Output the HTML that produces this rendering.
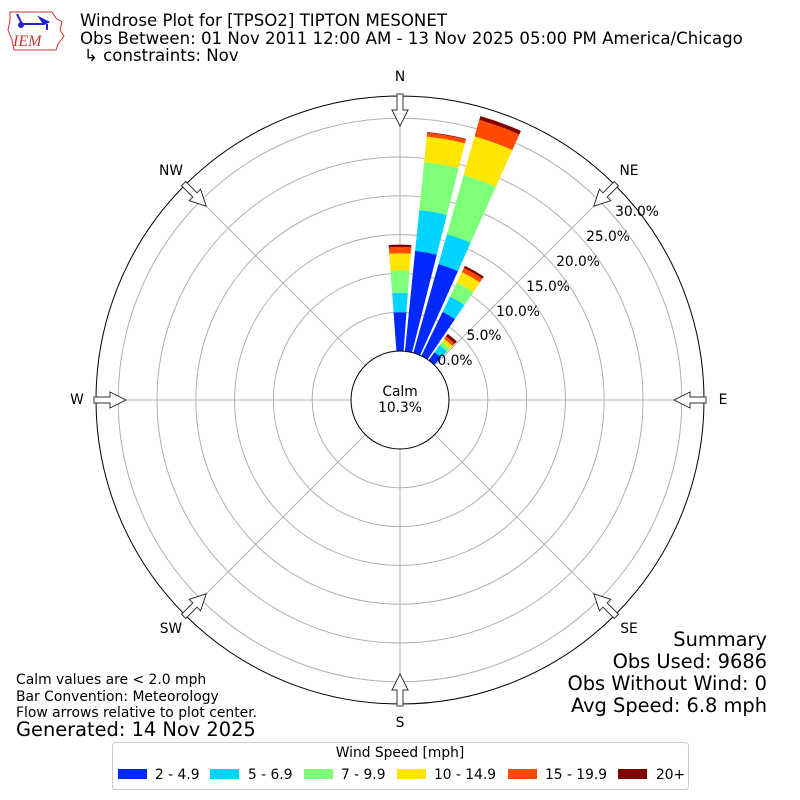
<!DOCTYPE html>
<html><head><meta charset="utf-8"><style>
body{margin:0;background:#fff}
svg{display:block;font-family:"DejaVu Sans","Liberation Sans",sans-serif}
</style></head><body>
<svg id="s" width="800" height="800" viewBox="0 0 800 800" xmlns="http://www.w3.org/2000/svg">
<rect width="800" height="800" fill="#fff"/>
<g stroke="#c33" fill="none" stroke-width="1">
<path d="M10 12 L52 12 L56 18 L62 22 L60 30 L64 36 L58 44 L56 50 L14 50 L12 40 L8 30 L10 20 Z"/>
</g>
<g stroke="#22c" stroke-width="2" fill="#22c">
<line x1="22" y1="24" x2="44" y2="24"/><line x1="17" y1="14" x2="22" y2="24"/><circle cx="21" cy="25" r="2"/><path d="M40 18 L48 22 L44 24 Z"/><line x1="47" y1="24" x2="47" y2="30"/>
</g>
<text x="13" y="46" font-family="Liberation Serif,serif" font-style="italic" font-size="16" fill="#c33">IEM</text>
<text x="80" y="26" font-size="16.6">Windrose Plot for [TPSO2] TIPTON MESONET</text>
<text x="80" y="44" font-size="16.6">Obs Between: 01 Nov 2011 12:00 AM - 13 Nov 2025 05:00 PM America/Chicago</text>
<text x="84" y="61" font-size="16.6">↳ constraints: Nov</text>
<g id="grid" fill="none" stroke="#b0b0b0" stroke-width="1"></g>
<g id="bars"></g>
<circle cx="400" cy="400" r="304" fill="none" stroke="#000" stroke-width="1"/>
<circle cx="400" cy="400" r="49" fill="#fff" stroke="#000" stroke-width="1"/>
<text x="400" y="396" font-size="13.8" text-anchor="middle">Calm</text>
<text x="400" y="412" font-size="13.8" text-anchor="middle">10.3%</text>
<g id="arrows"></g>
<g font-size="13.8" text-anchor="middle">
<text x="400" y="81">N</text><text x="629" y="175">NE</text><text x="723" y="404">E</text><text x="629" y="633">SE</text>
<text x="400" y="727">S</text><text x="171" y="633">SW</text><text x="77" y="404">W</text><text x="171" y="175">NW</text>
</g>
<g font-size="13.8" text-anchor="middle">
<text x="455" y="365">0.0%</text><text x="484" y="340">5.0%</text><text x="518" y="316">10.0%</text>
<text x="548" y="291">15.0%</text><text x="578" y="266">20.0%</text><text x="608" y="241">25.0%</text><text x="637" y="216">30.0%</text>
</g>
<g font-size="13.9">
<text x="16" y="684">Calm values are &lt; 2.0 mph</text>
<text x="16" y="701">Bar Convention: Meteorology</text>
<text x="16" y="717">Flow arrows relative to plot center.</text>
<text x="16" y="736" font-size="19.4">Generated: 14 Nov 2025</text>
</g>
<g font-size="19.4" text-anchor="end">
<text x="767" y="646">Summary</text>
<text x="767" y="668">Obs Used: 9686</text>
<text x="767" y="690">Obs Without Wind: 0</text>
<text x="767" y="712">Avg Speed: 6.8 mph</text>
</g>
<rect x="112.5" y="742.5" width="576" height="47" rx="3" fill="#fff" stroke="#ccc"/>
<text x="400" y="757" font-size="13.8" text-anchor="middle">Wind Speed [mph]</text>
<g font-size="13.8">
<rect x="118" y="769" width="29" height="10" fill="#0028ff"/><text x="155" y="779">2 - 4.9</text>
<rect x="210" y="769" width="29" height="10" fill="#00d4ff"/><text x="248" y="779">5 - 6.9</text>
<rect x="304" y="769" width="29" height="10" fill="#7dff7a"/><text x="341" y="779">7 - 9.9</text>
<rect x="397" y="769" width="29" height="10" fill="#ffe600"/><text x="434" y="779">10 - 14.9</text>
<rect x="508" y="769" width="29" height="10" fill="#ff4a00"/><text x="545" y="779">15 - 19.9</text>
<rect x="618" y="769" width="29" height="10" fill="#800000"/><text x="656" y="779">20+</text>
</g>
</svg>
<script>
var NS="http://www.w3.org/2000/svg",cx=400,cy=400;
function el(p,t,a){var e=document.createElementNS(NS,t);for(var k in a)e.setAttribute(k,a[k]);p.appendChild(e);return e;}
function pt(r,deg){var a=deg*Math.PI/180;return [cx+r*Math.sin(a),cy-r*Math.cos(a)];}
var g=document.getElementById('grid');
for(var i=1;i<=6;i++)el(g,'circle',{cx:cx,cy:cy,r:49+i*38.8});
for(var d=0;d<360;d+=45){var a=pt(49,d),b=pt(304,d);el(g,'line',{x1:a[0],y1:a[1],x2:b[0],y2:b[1]});}
var cols=["#0028ff","#00d4ff","#7dff7a","#ffe600","#ff4a00","#800000"];
var data={0:[5.0,7.5,10.4,12.6,13.4,13.7],10:[13,18.3,24.5,27.8,28.3,28.4],20:[11.9,15.9,23.8,29,31.2,31.7],30:[6.3,8.5,10.5,12,12.6,12.9],40:[1.3,2.4,2.9,3.4,3.8,4.2]};
var bg=document.getElementById('bars'),hw=4.2;
for(var k in data){var d=+k,prev=49;data[k].forEach(function(p,i){var r=49+p*7.76;
var a1=pt(prev,d-hw),a2=pt(r,d-hw),a3=pt(r,d+hw),a4=pt(prev,d+hw);
el(bg,'path',{d:"M"+a1+" L"+a2+" A"+r+" "+r+" 0 0 1 "+a3+" L"+a4+" A"+prev+" "+prev+" 0 0 0 "+a1+"Z",fill:cols[i]});prev=r;});}
var ag=document.getElementById('arrows');
for(var d=0;d<360;d+=45){var s="M-3,-306 L3,-306 L3,-290 L8,-290 L0,-274 L-8,-290 L-3,-290 Z";
el(ag,'path',{d:s,fill:"#fff",stroke:"#333","stroke-width":1,transform:"translate(400,400) rotate("+d+")"});}
</script>
</body></html>
